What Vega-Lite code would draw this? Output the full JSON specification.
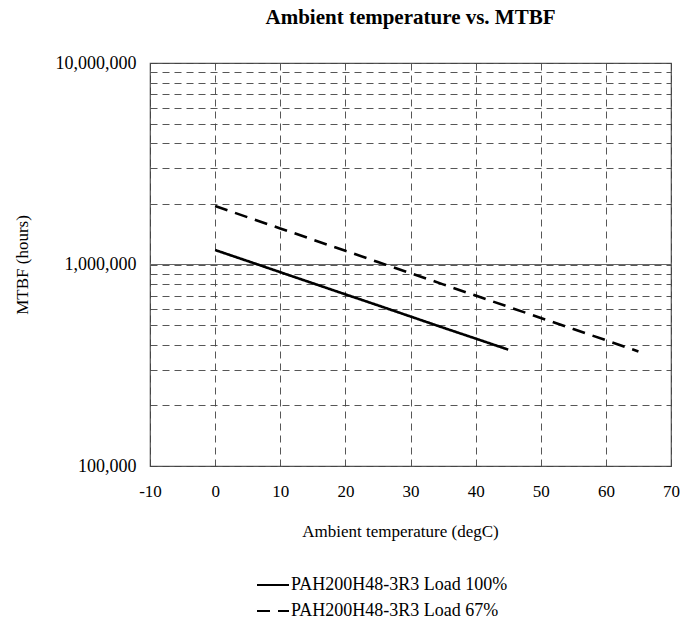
{
  "$schema": "https://vega.github.io/schema/vega-lite/v6.json",
  "autosize": "none",
  "padding": {"left": 150, "top": 63, "right": 18, "bottom": 160},
  "width": 521,
  "height": 403,
  "background": "white",
  "title": {
    "text": "Ambient temperature vs. MTBF",
    "font": "Liberation Serif",
    "fontSize": 21,
    "fontWeight": "bold",
    "color": "black",
    "anchor": "middle",
    "offset": 26
  },
  "config": {
    "view": {"stroke": "#555", "strokeWidth": 1.2},
    "font": "Liberation Serif"
  },
  "data": {
    "values": [
      {"temp": 0, "mtbf": 1180000, "series": "PAH200H48-3R3 Load 100%"},
      {"temp": 5, "mtbf": 1040000, "series": "PAH200H48-3R3 Load 100%"},
      {"temp": 10, "mtbf": 916000, "series": "PAH200H48-3R3 Load 100%"},
      {"temp": 15, "mtbf": 807000, "series": "PAH200H48-3R3 Load 100%"},
      {"temp": 20, "mtbf": 711000, "series": "PAH200H48-3R3 Load 100%"},
      {"temp": 25, "mtbf": 627000, "series": "PAH200H48-3R3 Load 100%"},
      {"temp": 30, "mtbf": 552000, "series": "PAH200H48-3R3 Load 100%"},
      {"temp": 35, "mtbf": 486000, "series": "PAH200H48-3R3 Load 100%"},
      {"temp": 40, "mtbf": 429000, "series": "PAH200H48-3R3 Load 100%"},
      {"temp": 45, "mtbf": 378000, "series": "PAH200H48-3R3 Load 100%"},
      {"temp": 0, "mtbf": 1950000, "series": "PAH200H48-3R3 Load 67%"},
      {"temp": 5, "mtbf": 1716000, "series": "PAH200H48-3R3 Load 67%"},
      {"temp": 10, "mtbf": 1510000, "series": "PAH200H48-3R3 Load 67%"},
      {"temp": 15, "mtbf": 1329000, "series": "PAH200H48-3R3 Load 67%"},
      {"temp": 20, "mtbf": 1169000, "series": "PAH200H48-3R3 Load 67%"},
      {"temp": 25, "mtbf": 1029000, "series": "PAH200H48-3R3 Load 67%"},
      {"temp": 30, "mtbf": 906000, "series": "PAH200H48-3R3 Load 67%"},
      {"temp": 35, "mtbf": 797000, "series": "PAH200H48-3R3 Load 67%"},
      {"temp": 40, "mtbf": 701000, "series": "PAH200H48-3R3 Load 67%"},
      {"temp": 45, "mtbf": 617000, "series": "PAH200H48-3R3 Load 67%"},
      {"temp": 50, "mtbf": 543000, "series": "PAH200H48-3R3 Load 67%"},
      {"temp": 55, "mtbf": 478000, "series": "PAH200H48-3R3 Load 67%"},
      {"temp": 60, "mtbf": 421000, "series": "PAH200H48-3R3 Load 67%"},
      {"temp": 65, "mtbf": 370000, "series": "PAH200H48-3R3 Load 67%"}
    ]
  },
  "layer": [
    {
      "mark": {"type": "rule", "color": "#666", "strokeWidth": 1.2},
      "encoding": {
        "y": {"datum": 1000000, "type": "quantitative", "scale": {"type": "log", "domain": [100000, 10000000]}}
      }
    },
    {
      "mark": {"type": "line", "color": "black", "strokeWidth": 2.6},
      "encoding": {
        "x": {
          "field": "temp",
          "type": "quantitative",
          "scale": {"domain": [-10, 70], "nice": false, "zero": false},
          "axis": {
            "values": [-10, 0, 10, 20, 30, 40, 50, 60, 70],
            "labelExpr": "'' + datum.value",
            "title": "Ambient temperature (degC)",
            "titleFont": "Liberation Serif",
            "titleFontSize": 17,
            "titleFontWeight": "normal",
            "titleColor": "black",
            "titlePadding": 24,
            "titleX": 250,
            "labelFont": "Liberation Serif",
            "labelFontSize": 17,
            "labelColor": "black",
            "labelPadding": 17,
            "labelFlush": false,
            "ticks": false,
            "domain": false,
            "grid": true,
            "gridColor": "#444",
            "gridDash": [7, 5],
            "gridWidth": 0.9
          }
        },
        "y": {
          "field": "mtbf",
          "type": "quantitative",
          "scale": {"type": "log", "domain": [100000, 10000000], "nice": false},
          "axis": {
            "values": [100000, 200000, 300000, 400000, 500000, 600000, 700000, 800000, 900000, 1000000, 2000000, 3000000, 4000000, 5000000, 6000000, 7000000, 8000000, 9000000, 10000000],
            "labelExpr": "(datum.value == 100000 || datum.value == 1000000 || datum.value == 10000000) ? format(datum.value, ',') : ''",
            "title": "MTBF (hours)",
            "titleFont": "Liberation Serif",
            "titleFontSize": 17,
            "titleFontWeight": "normal",
            "titleColor": "black",
            "titlePadding": 24,
            "labelFont": "Liberation Serif",
            "labelFontSize": 18,
            "labelColor": "black",
            "labelPadding": 14,
            "labelFlush": false,
            "labelOverlap": false,
            "ticks": false,
            "domain": false,
            "grid": true,
            "gridColor": "#444",
            "gridDash": [7, 5],
            "gridWidth": 0.9
          }
        },
        "strokeDash": {
          "field": "series",
          "type": "nominal",
          "sort": ["PAH200H48-3R3 Load 100%", "PAH200H48-3R3 Load 67%"],
          "scale": {"domain": ["PAH200H48-3R3 Load 100%", "PAH200H48-3R3 Load 67%"], "range": [[1, 0], [13, 8]]},
          "legend": {
            "title": null,
            "orient": "none",
            "legendX": 106,
            "legendY": 505,
            "direction": "vertical",
            "symbolType": "stroke",
            "symbolSize": 1024,
            "symbolStrokeWidth": 1.8,
            "symbolStrokeColor": "black",
            "labelFont": "Liberation Serif",
            "labelFontSize": 18,
            "labelColor": "black",
            "labelLimit": 0,
            "labelOffset": 1,
            "rowPadding": 0
          }
        }
      }
    }
  ]
}
